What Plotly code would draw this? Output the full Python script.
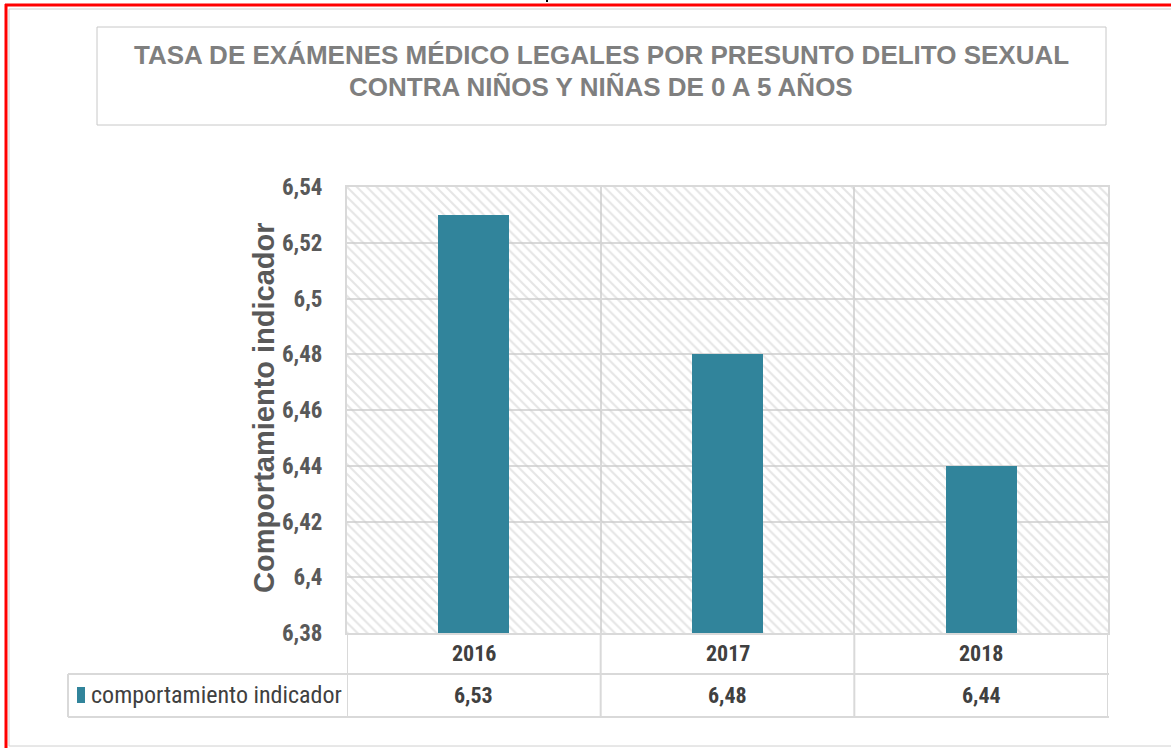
import plotly.graph_objects as go

# ---- data ----
years = ["2016", "2017", "2018"]
values = [6.53, 6.48, 6.44]
value_labels = ["6,53", "6,48", "6,44"]
series_name = "comportamiento indicador"
y_title = "Comportamiento indicador"
title_line1 = "TASA DE EXÁMENES MÉDICO LEGALES POR PRESUNTO DELITO SEXUAL"
title_line2 = "CONTRA NIÑOS Y NIÑAS DE 0 A 5 AÑOS"
y_min, y_max, y_step = 6.38, 6.54, 0.02

# ---- layout geometry (pixels) ----
W, H = 1171, 748
L, R, T, B = 347, 1108, 187, 633
PW, PH = R - L, B - T


def px(x):
    return (x - L) / PW


def py(y):
    return (B - y) / PH


TEAL = "#31849b"
GRID = "#d9d9d9"
NARROW = "Roboto Condensed, DejaVu Sans Condensed, Liberation Sans, Arial, sans-serif"
ARIAL = "Liberation Sans, Arial, sans-serif"

fig = go.Figure()

# hatched plot background (one cell per category)
fig.add_trace(go.Bar(
    x=years, y=[y_max - y_min] * len(years), base=y_min, width=1,
    marker=dict(color="rgba(0,0,0,0)", line=dict(width=0),
                pattern=dict(shape="\\", fgcolor="#cbcbcb", bgcolor="rgba(0,0,0,0)",
                             size=7, solidity=0.3, fillmode="overlay")),
    hoverinfo="skip", showlegend=False,
))

fig.add_trace(go.Bar(
    x=years, y=values, width=0.28, name=series_name,
    marker=dict(color=TEAL, line=dict(width=0)),
    showlegend=False,
))

shapes = []
line = dict(color=GRID, width=2)
# table vertical lines below plot at category boundaries
for b in [-0.5, 0.5, 1.5, 2.5]:
    shapes.append(dict(type="line", xref="x", yref="paper", x0=b, x1=b,
                       y0=0, y1=py(717), line=line, layer="above"))
# horizontal lines of table
for yy in [674, 717]:
    shapes.append(dict(type="line", xref="paper", yref="paper", x0=px(68), x1=px(1109),
                       y0=py(yy), y1=py(yy), line=line))
shapes.append(dict(type="line", xref="paper", yref="paper", x0=px(68), x1=px(68),
                   y0=py(674), y1=py(717), line=line))
# legend key
shapes.append(dict(type="rect", xref="paper", yref="paper", x0=px(77), x1=px(85),
                   y0=py(703), y1=py(687), fillcolor=TEAL, line=dict(width=0)))
# title box
shapes.append(dict(type="rect", xref="paper", yref="paper", x0=px(97), x1=px(1106),
                   y0=py(27), y1=py(125), line=dict(color="#c8c8c8", width=1)))
# outer frame (gray) and red border
shapes.append(dict(type="line", xref="paper", yref="paper", x0=px(9), x1=px(1171),
                   y0=py(9), y1=py(9), line=dict(color="#d0d0d0", width=1)))
shapes.append(dict(type="line", xref="paper", yref="paper", x0=px(9), x1=px(9),
                   y0=py(9), y1=py(746), line=dict(color="#d0d0d0", width=1)))
shapes.append(dict(type="line", xref="paper", yref="paper", x0=px(9), x1=px(1171),
                   y0=py(746), y1=py(746), line=dict(color="#d0d0d0", width=1)))
shapes.append(dict(type="line", xref="paper", yref="paper", x0=px(5), x1=px(1171),
                   y0=py(5), y1=py(5), line=dict(color="#ff0000", width=3)))
shapes.append(dict(type="line", xref="paper", yref="paper", x0=px(6), x1=px(6),
                   y0=py(4), y1=py(748), line=dict(color="#ff0000", width=3)))
shapes.append(dict(type="line", xref="paper", yref="paper", x0=px(547), x1=px(547),
                   y0=py(0), y1=py(2), line=dict(color="#000000", width=2)))

annotations = [
    dict(text=f"<b>{title_line1}</b>", xref="paper", yref="paper", x=px(601), y=py(55),
         xanchor="center", yanchor="middle", showarrow=False,
         font=dict(family=ARIAL, size=26, color="#7f7f7f")),
    dict(text=f"<b>{title_line2}</b>", xref="paper", yref="paper", x=px(601), y=py(87),
         xanchor="center", yanchor="middle", showarrow=False,
         font=dict(family=ARIAL, size=26, color="#7f7f7f")),
    dict(text=f"<b>{y_title}</b>", xref="paper", yref="paper", x=px(264), y=py(408),
         xanchor="center", yanchor="middle", textangle=-90, showarrow=False,
         font=dict(family=ARIAL, size=29, color="#595959")),
    dict(text=series_name, xref="paper", yref="paper", x=px(89), y=py(695),
         xanchor="left", yanchor="middle", showarrow=False,
         font=dict(family=NARROW, size=24, color="#404040")),
]
for i, (yr, lab) in enumerate(zip(years, value_labels)):
    annotations.append(dict(text=f"<b>{yr}</b>", xref="x", yref="paper", x=i, y=py(653),
                            xanchor="center", yanchor="middle", showarrow=False,
                            font=dict(family=NARROW, size=22, color="#404040")))
    annotations.append(dict(text=f"<b>{lab}</b>", xref="x", yref="paper", x=i, y=py(695),
                            xanchor="center", yanchor="middle", showarrow=False,
                            font=dict(family=NARROW, size=22, color="#404040")))

n_ticks = int(round((y_max - y_min) / y_step)) + 1
tickvals = [round(y_min + i * y_step, 2) for i in range(n_ticks)]

fig.update_layout(
    width=W, height=H,
    margin=dict(l=L, r=W - R, t=T, b=H - B, pad=0),
    paper_bgcolor="white", plot_bgcolor="white",
    barmode="overlay", bargap=0,
    separators=", ",
    shapes=shapes, annotations=annotations,
    xaxis=dict(type="category", range=[-0.5, 2.5], showticklabels=False,
               showgrid=True, tickson="boundaries", gridcolor=GRID, gridwidth=2,
               showline=True, mirror=True, linecolor=GRID, linewidth=2, ticks="",
               zeroline=False, fixedrange=True),
    yaxis=dict(range=[y_min, y_max], tickvals=tickvals, showgrid=True, gridcolor=GRID,
               gridwidth=2, showline=True, mirror=True, linecolor=GRID, linewidth=2,
               ticks="", ticklabelstandoff=18, zeroline=False,
               tickfont=dict(family=NARROW, size=23, color="#595959", weight="bold")),
    showlegend=False,
)

fig.write_html(
    "out.html",
    config={"displayModeBar": False},
    post_script="document.body.style.margin='0';document.body.style.overflow='hidden';",
)
